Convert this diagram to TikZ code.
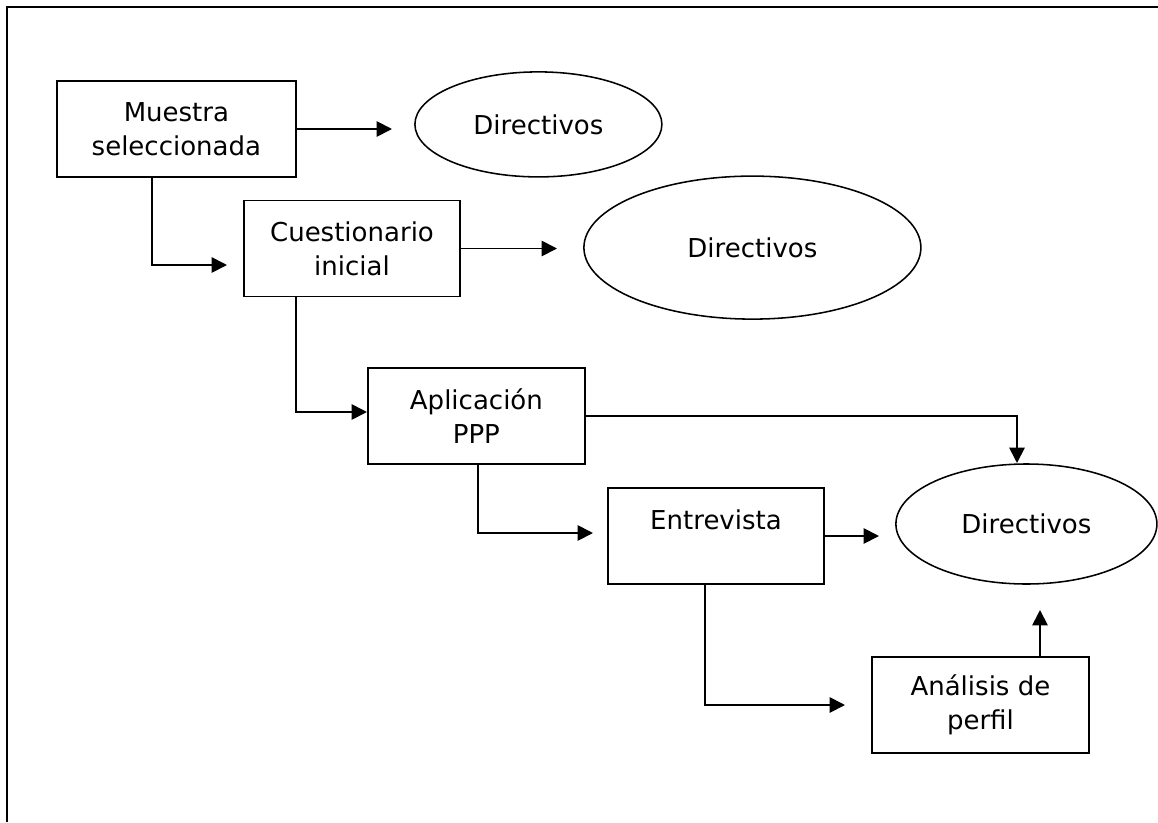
\documentclass[tikz,border=0pt]{standalone}
\usepackage{fontspec}
\setmainfont{DejaVu Sans}
\usetikzlibrary{shapes.geometric,arrows.meta}

\begin{document}
\begin{tikzpicture}[
    every node/.style={font=\fontsize{18.5}{24}\selectfont},
    box/.style={draw, rectangle, line width=1.3pt, align=center, minimum width=5.4cm, minimum height=2.4cm, inner sep=0pt},
    oval/.style={draw, ellipse, line width=1.1pt, inner sep=0pt},
    flow/.style={line width=1.3pt, -{Triangle[length=11pt,width=11pt]}}
]
    \useasboundingbox (0,0) rectangle (28.95,-20.55);

    % Frame
    \draw[line width=1.6pt] (0.175,-20.55) -- (0.175,-0.175) -- (28.95,-0.175);

    % Steps
    \node[box, minimum width=5.975cm] (muestra) at (4.41,-3.225) {Muestra\\seleccionada};
    \node[box] (cuestionario) at (8.8,-6.2125) {Cuestionario\\inicial};
    \node[box, minimum width=5.425cm] (aplicacion) at (11.91,-10.4) {Aplicación\\PPP};
    \node[box] (entrevista) at (17.9,-13.4) {Entrevista\\~};
    \node[box, minimum width=5.425cm] (analisis) at (24.51,-17.625) {Análisis de\\perfil};

    % Directivos
    \node[oval, minimum width=6.175cm, minimum height=2.625cm] (dir_a) at (13.46,-3.11) {Directivos};
    \node[oval, minimum width=8.425cm, minimum height=3.575cm] (dir_b) at (18.81,-6.19) {Directivos};
    \node[oval, minimum width=6.525cm, minimum height=3cm] (dir_c) at (25.66,-13.1) {Directivos};

    % Arrow ends and bends
    \coordinate (t1) at (9.8,-3.225);
    \coordinate (t2) at (13.925,-6.2125);
    \coordinate (b1) at (3.8,-6.625);
    \coordinate (t3) at (5.675,-6.625);
    \coordinate (b2) at (7.4,-10.3);
    \coordinate (t4) at (25.425,-11.575);
    \coordinate (b3) at (11.95,-13.325);
    \coordinate (t5) at (14.825,-13.325);
    \coordinate (t6) at (21.975,-13.4);
    \coordinate (b4) at (17.625,-17.625);
    \coordinate (t7) at (21.125,-17.625);
    \coordinate (t8) at (26,-15.25);

    % Edges
    \draw[flow] (muestra.east) -- (t1);
    \draw[flow] (cuestionario.east) -- (t2);
    \draw[flow] (muestra.south -| b1) -- (b1) -- (t3);
    \draw[flow] (cuestionario.south -| b2) -- (b2) -- (aplicacion.west |- b2);
    \draw[flow] (aplicacion.east) -| (t4);
    \draw[flow] (aplicacion.south -| b3) -- (b3) -- (t5);
    \draw[flow] (entrevista.east) -- (t6);
    \draw[flow] (entrevista.south -| b4) -- (b4) -- (t7);
    \draw[flow] (analisis.north -| t8) -- (t8);
\end{tikzpicture}
\end{document}
